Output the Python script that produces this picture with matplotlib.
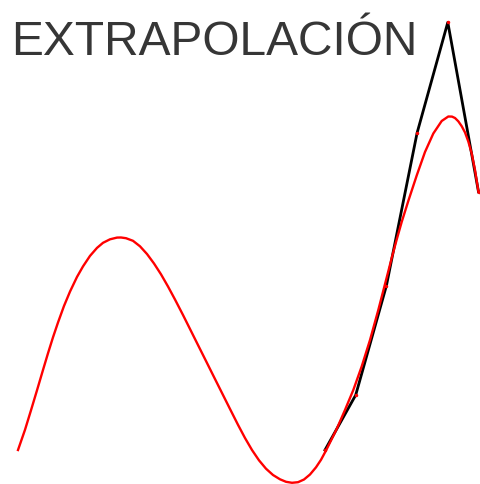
import matplotlib
matplotlib.use("Agg")
import matplotlib.pyplot as plt

# ---------------------------------------------------------------
# Data
# ---------------------------------------------------------------
# smooth model curve (red)
curve_x = [0.0, 0.228, 0.423, 0.619, 0.814, 0.977, 1.140, 1.303, 1.498,
           1.694, 1.922, 2.117, 2.345, 2.573, 2.769, 2.997, 3.225, 3.355,
           3.518, 3.746, 3.974, 4.202, 4.430, 4.658, 4.886, 5.114, 5.375,
           5.603, 5.863, 6.124, 6.384, 6.645, 6.906, 7.166, 7.394, 7.622,
           7.850, 8.078, 8.306, 8.534, 8.730, 8.925, 9.121, 9.316, 9.511,
           9.707, 9.870, 10.033, 10.195, 10.381, 10.651, 10.922, 11.195,
           11.466, 11.736, 12.010, 12.173, 12.336, 12.498, 12.713, 12.987,
           13.257, 13.528, 13.801, 14.016, 14.137, 14.235, 14.342, 14.453,
           14.560, 14.668, 14.779, 14.886, 15.0]
curve_y = [0.0, 0.658, 1.293, 1.945, 2.606, 3.150, 3.671, 4.153, 4.691,
           5.160, 5.638, 5.980, 6.322, 6.583, 6.749, 6.863, 6.919, 6.922,
           6.899, 6.814, 6.635, 6.384, 6.075, 5.723, 5.326, 4.902, 4.397,
           3.941, 3.420, 2.899, 2.378, 1.857, 1.336, 0.821, 0.391, 0.0,
           -0.336, -0.609, -0.814, -0.954, -1.036, -1.068, -1.049, -0.961, -0.798,
           -0.564, -0.319, -0.016, 0.309, 0.684, 1.303, 1.954, 2.720,
           3.583, 4.560, 5.619, 6.254, 6.857, 7.427, 8.111, 8.941,
           9.707, 10.309, 10.717, 10.863, 10.860, 10.814, 10.707, 10.547,
           10.345, 10.049, 9.658, 9.121, 8.404]

# observed points beyond the fitted range (black)
obs_x = [10, 11, 12, 13, 14, 15]
obs_y = [0.0, 1.79, 5.35, 10.33, 13.93, 8.41]

title_text = "EXTRAPOLACIÓN"

# ---------------------------------------------------------------
# Plot
# ---------------------------------------------------------------
fig = plt.figure(figsize=(4.8, 4.85), dpi=100)
ax = fig.add_axes([0, 0, 1, 1])

ax.plot(obs_x, obs_y, color="black", linewidth=2.0, zorder=2)
ax.plot(curve_x, curve_y, color="red", linewidth=1.7, zorder=3,
        solid_joinstyle="round")
ax.plot(obs_x, obs_y, "o", color="red", markersize=1.5, zorder=4)

ax.set_xlim(-18 / 30.7, (480 - 18) / 30.7)
ax.set_ylim(-(485 - 451) / 30.7, 451 / 30.7)
ax.axis("off")

fig.text(11 / 480, (485 - 55) / 485, title_text, fontsize=34.5,
         family=["Liberation Sans", "DejaVu Sans"], color="#363636",
         ha="left", va="baseline")

fig.savefig("out.png", dpi=100)
plt.close(fig)
